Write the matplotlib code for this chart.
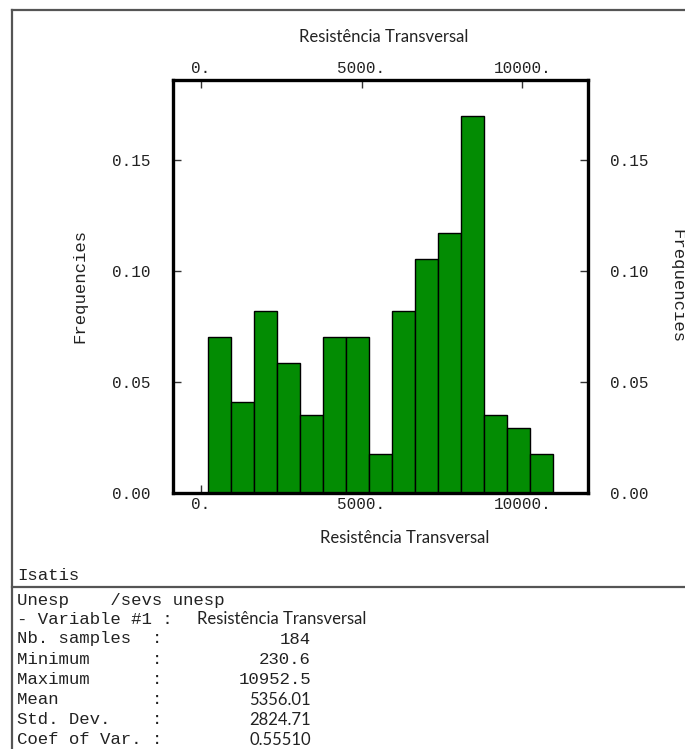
import matplotlib
matplotlib.use("Agg")
import matplotlib.pyplot as plt
from matplotlib.lines import Line2D

# Histogram of "Resistência Transversal" (Isatis statistics window)
bin_edges = [230.6, 945.4, 1660.2, 2375.1, 3089.9, 3804.7, 4519.5, 5234.3,
             5949.2, 6664.0, 7378.8, 8093.6, 8808.4, 9523.3, 10238.1, 10952.5]
frequencies = [0.0702, 0.0409, 0.0819, 0.0585, 0.0351, 0.0702, 0.0702, 0.0175,
               0.0819, 0.1053, 0.1170, 0.1696, 0.0351, 0.0292, 0.0175]

x_ticks = [0, 5000, 10000]
x_tick_labels = ["0.", "5000.", "10000."]
y_ticks = [0.00, 0.05, 0.10, 0.15]
y_tick_labels = ["0.00", "0.05", "0.10", "0.15"]

variable_name = "Resistência Transversal"
stat_names = ["Nb. samples  :", "Minimum      :", "Maximum      :",
              "Mean         :", "Std. Dev.    :", "Coef of Var. :"]
stat_values = ["184", "230.6", "10952.5", "5356.01", "2824.71", "0.55510"]
stat_mono = [True, True, True, False, False, False]

W, H = 685, 749
DPI = 100
MONO = "Liberation Mono"
SANS = "Lato"
INK = "#222222"

fig = plt.figure(figsize=(W / DPI, H / DPI), dpi=DPI)
fig.patch.set_facecolor("white")


def fx(px):
    return px / W


def fy(py):
    return 1 - py / H


# main axes box (pixel extents)
left, right, top, bottom = 173, 588, 80, 493
ax = fig.add_axes([fx(left), fy(bottom), (right - left) / W, (bottom - top) / H])

widths = [b - a for a, b in zip(bin_edges[:-1], bin_edges[1:])]
ax.bar(bin_edges[:-1], frequencies, width=widths, align="edge",
       color="#038c03", edgecolor="black", linewidth=1.0, zorder=2)

ax.set_xlim(-860, 12040)
ax.set_ylim(0, 0.186)
ax.set_xticks(x_ticks)
ax.set_xticklabels(x_tick_labels)
ax.set_yticks(y_ticks)
ax.set_yticklabels(y_tick_labels)
for s in ax.spines.values():
    s.set_linewidth(2.4)
    s.set_color("black")
ax.tick_params(axis="x", which="both", direction="in", top=True, bottom=True,
               labeltop=True, labelbottom=True, length=6, width=1.0,
               color="#333333", pad=3, labelsize=11.5, labelcolor=INK)
ax.tick_params(axis="y", which="both", direction="in", left=True, right=True,
               labelleft=True, labelright=True, length=6, width=1.0,
               color="#333333", labelsize=11.5, labelcolor=INK, pad=16)
for t in ax.yaxis.get_major_ticks() + ax.xaxis.get_major_ticks():
    t.label1.set_family(MONO)
    t.label2.set_family(MONO)

# axis titles
fig.text(fx(384), fy(37), variable_name, family=SANS, fontsize=12,
         ha="center", va="center", color=INK)
fig.text(fx(405), fy(538), variable_name, family=SANS, fontsize=12,
         ha="center", va="center", color=INK)
fig.text(fx(80), fy(286), "Frequencies", family=MONO, fontsize=12.5,
         rotation=90, ha="center", va="center", color=INK)
fig.text(fx(677), fy(286), "Frequencies", family=MONO, fontsize=12.5,
         rotation=270, ha="center", va="center", color=INK)

# window frame and separator
frame_kw = dict(color="#555555", linewidth=1.6, transform=fig.transFigure)
fig.add_artist(Line2D([fx(12), fx(W)], [fy(10), fy(10)], **frame_kw))
fig.add_artist(Line2D([fx(12.5), fx(12.5)], [fy(10), fy(H)], **frame_kw))
fig.add_artist(Line2D([fx(12), fx(W)], [fy(587), fy(587)], **frame_kw))

# statistics block
x0 = 17
fig.text(fx(x0), fy(575), "Isatis", family=MONO, fontsize=12.5,
         ha="left", va="center", color=INK)
fig.text(fx(x0), fy(600), "Unesp    /sevs unesp", family=MONO, fontsize=12.5,
         ha="left", va="center", color=INK)
fig.text(fx(x0), fy(619), "- Variable #1 :", family=MONO, fontsize=12.5,
         ha="left", va="center", color=INK)
fig.text(fx(197), fy(619), variable_name, family=SANS, fontsize=12,
         ha="left", va="center", color=INK)

row_y = [639, 660, 679, 700, 720, 740]
for name, val, mono, yy in zip(stat_names, stat_values, stat_mono, row_y):
    fig.text(fx(x0), fy(yy), name, family=MONO, fontsize=12.5,
             ha="left", va="center", color=INK)
    fig.text(fx(311), fy(yy), val, family=MONO if mono else SANS,
             fontsize=12.5 if mono else 12, ha="right", va="center", color=INK)

fig.savefig("out.png", dpi=DPI, facecolor="white")
